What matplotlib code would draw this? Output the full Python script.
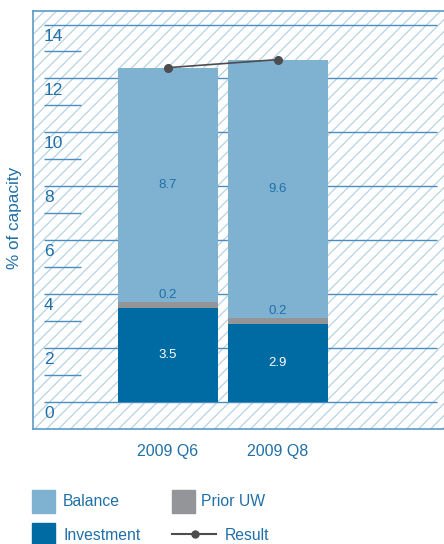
import matplotlib
matplotlib.use("Agg")
import matplotlib.pyplot as plt
from matplotlib.patches import Rectangle
from matplotlib.lines import Line2D
from matplotlib.collections import LineCollection
import numpy as np

plt.rcParams['font.family'] = ['Liberation Sans', 'DejaVu Sans']

# Data
categories = ["2009 Q6", "2009 Q8"]
investment = [3.5, 2.9]
prior_uw = [0.2, 0.2]
balance = [8.7, 9.6]
result = [12.4, 12.7]
y_ticks = [0, 2, 4, 6, 8, 10, 12, 14]
y_minor = [1, 3, 5, 7, 9, 11, 13]

# Colours
C_BAL = "#7fb2d1"
C_INV = "#006aa3"
C_PRI = "#939598"
C_RES = "#4d4d4f"
C_TXT = "#1f6fa8"
C_GRID = "#4a8dbf"
C_FRAME = "#5b9bc8"
C_HATCH = "#a3c9e1"

W, H = 444, 544
fig = plt.figure(figsize=(W / 100, H / 100), dpi=100)

ax_left, ax_right, ax_top, ax_bottom = 33, 444, 10.5, 429
aw, ah = ax_right - ax_left, ax_bottom - ax_top
ax = fig.add_axes([ax_left / W, 1 - ax_bottom / H, aw / W, ah / H])

x = np.arange(len(categories))
ax.set_xlim(-1.227, 2.509)
ax.set_ylim(-1.0, 14.52)

# diagonal hatching of the plot background (45 degrees, ~12 px apart)
step = 12.0
offsets = np.arange(-ah, aw + step, step)
segs = [[(c / aw, 0.0), ((c + ah) / aw, 1.0)] for c in offsets]
hatch = LineCollection(segs, transform=ax.transAxes, colors=C_HATCH,
                       linewidths=0.7, zorder=0)
ax.add_collection(hatch, autolim=False)

# horizontal reference lines
ytr = ax.get_yaxis_transform()
ax.hlines(y_ticks, 0.027, 0.983, transform=ytr, color=C_GRID, lw=1.0, zorder=1)
ax.hlines(y_minor, 0.027, 0.117, transform=ytr, color=C_GRID, lw=1.0, zorder=1)
for v in y_ticks:
    ax.text(0.027, v - 0.43, str(v), transform=ytr, ha="left", va="center",
            fontsize=12.5, color=C_TXT, zorder=1)

# stacked bars
bw = 0.909
ax.bar(x, investment, width=bw, color=C_INV, zorder=2)
bottom2 = np.array(investment)
ax.bar(x, prior_uw, width=bw, bottom=bottom2, color=C_PRI, zorder=2)
bottom3 = bottom2 + np.array(prior_uw)
ax.bar(x, balance, width=bw, bottom=bottom3, color=C_BAL, zorder=2)

# result line
ax.plot(x, result, color=C_RES, lw=1.2, marker="o", ms=5.5, zorder=3)

# value labels
for i in range(len(x)):
    ax.text(x[i], investment[i] / 2, f"{investment[i]:.1f}", ha="center",
            va="center", color="white", fontsize=9.5, zorder=4)
    ax.text(x[i], bottom3[i] + 0.27, f"{prior_uw[i]:.1f}", ha="center",
            va="center", color=C_TXT, fontsize=9.5, zorder=4)
    ax.text(x[i], bottom3[i] + balance[i] / 2, f"{balance[i]:.1f}",
            ha="center", va="center", color=C_TXT, fontsize=9.5, zorder=4)

# frame
for s in ["left", "top", "bottom"]:
    ax.spines[s].set_color(C_FRAME)
    ax.spines[s].set_linewidth(1.2)
ax.spines["right"].set_visible(False)
ax.set_yticks([])
ax.set_xticks(x)
ax.set_xticklabels(categories, fontsize=11.5, color=C_TXT)
ax.tick_params(axis="x", length=0, pad=11)

fig.text(15 / W, 1 - 218 / H, "% of capacity", rotation=90, ha="center",
         va="center", fontsize=12.3, color=C_TXT)

# legend drawn in pixel coordinates
lg = fig.add_axes([0, 0, 1, 1])
lg.set_xlim(0, W)
lg.set_ylim(H, 0)
lg.axis("off")
lg.add_patch(Rectangle((32, 490), 23, 23, color=C_BAL))
lg.text(63, 502, "Balance", va="center", ha="left", fontsize=11.3, color=C_TXT)
lg.add_patch(Rectangle((172, 490), 23, 23, color=C_PRI))
lg.text(201, 502, "Prior UW", va="center", ha="left", fontsize=11.3, color=C_TXT)
lg.add_patch(Rectangle((32, 523), 23, 23, color=C_INV))
lg.text(63, 535, "Investment", va="center", ha="left", fontsize=11.3, color=C_TXT)
lg.add_line(Line2D([172, 216], [534, 534], color=C_RES, lw=1.5))
lg.add_line(Line2D([195], [534], color=C_RES, marker="o", ms=5))
lg.text(225, 535, "Result", va="center", ha="left", fontsize=11.3, color=C_TXT)

fig.savefig("out.png", dpi=100)
